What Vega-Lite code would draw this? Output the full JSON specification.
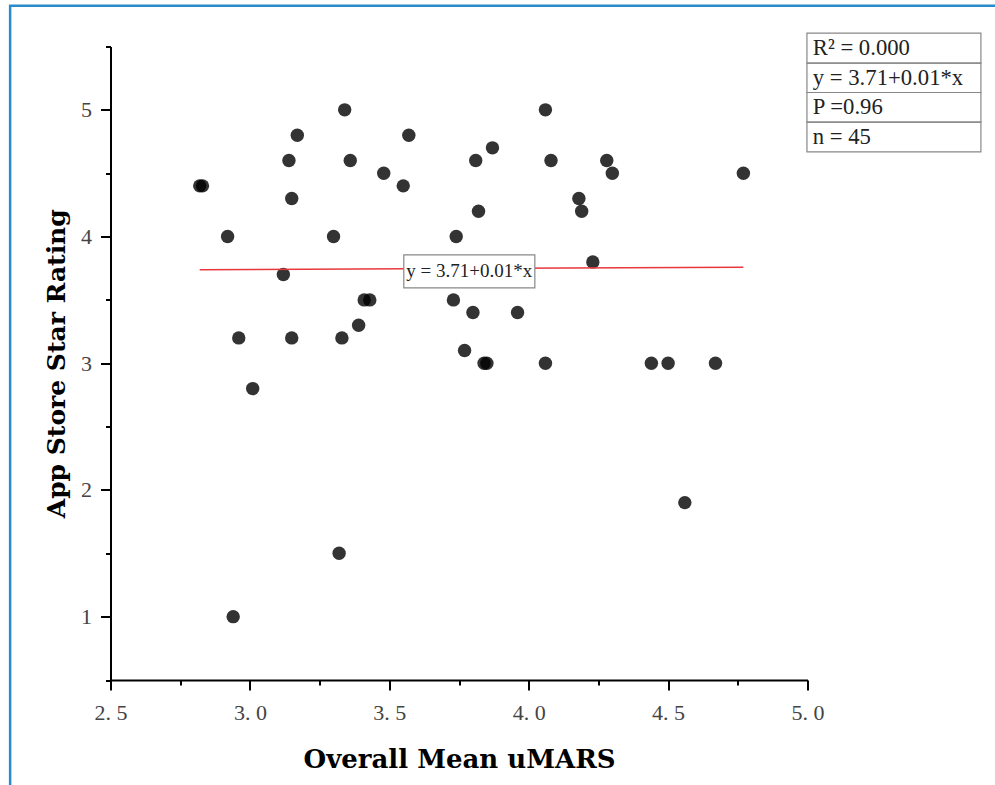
{
  "$schema": "https://vega.github.io/schema/vega-lite/v6.json",
  "width": 697,
  "height": 633.5,
  "autosize": {"type": "none"},
  "padding": {"left": 110.5, "top": 46.5, "right": 187.5, "bottom": 105},
  "background": "white",
  "config": {"view": {"stroke": null}, "font": "Liberation Serif"},
  "datasets": {
    "points": [
      {"mars": 2.82, "rating": 4.4}, {"mars": 2.83, "rating": 4.4},
      {"mars": 2.92, "rating": 4.0}, {"mars": 2.94, "rating": 1.0},
      {"mars": 2.96, "rating": 3.2}, {"mars": 3.01, "rating": 2.8},
      {"mars": 3.12, "rating": 3.7}, {"mars": 3.14, "rating": 4.6},
      {"mars": 3.15, "rating": 4.3}, {"mars": 3.15, "rating": 3.2},
      {"mars": 3.17, "rating": 4.8}, {"mars": 3.30, "rating": 4.0},
      {"mars": 3.32, "rating": 1.5}, {"mars": 3.33, "rating": 3.2},
      {"mars": 3.34, "rating": 5.0}, {"mars": 3.36, "rating": 4.6},
      {"mars": 3.39, "rating": 3.3}, {"mars": 3.41, "rating": 3.5},
      {"mars": 3.43, "rating": 3.5}, {"mars": 3.48, "rating": 4.5},
      {"mars": 3.55, "rating": 4.4}, {"mars": 3.57, "rating": 4.8},
      {"mars": 3.73, "rating": 3.5}, {"mars": 3.74, "rating": 4.0},
      {"mars": 3.77, "rating": 3.1}, {"mars": 3.80, "rating": 3.4},
      {"mars": 3.81, "rating": 4.6}, {"mars": 3.82, "rating": 4.2},
      {"mars": 3.84, "rating": 3.0}, {"mars": 3.85, "rating": 3.0},
      {"mars": 3.87, "rating": 4.7}, {"mars": 3.96, "rating": 3.4},
      {"mars": 4.06, "rating": 3.0}, {"mars": 4.06, "rating": 5.0},
      {"mars": 4.08, "rating": 4.6}, {"mars": 4.18, "rating": 4.3},
      {"mars": 4.19, "rating": 4.2}, {"mars": 4.23, "rating": 3.8},
      {"mars": 4.28, "rating": 4.6}, {"mars": 4.30, "rating": 4.5},
      {"mars": 4.44, "rating": 3.0}, {"mars": 4.50, "rating": 3.0},
      {"mars": 4.56, "rating": 1.9}, {"mars": 4.67, "rating": 3.0},
      {"mars": 4.77, "rating": 4.5}
    ],
    "fit": [
      {"mars": 2.82, "rating": 3.738},
      {"mars": 4.77, "rating": 3.758}
    ]
  },
  "resolve": {"axis": {"x": "independent", "y": "independent"}},
  "layer": [
    {
      "data": {"values": [{}]},
      "mark": {"type": "rect", "fill": null, "stroke": "#2a8bcc", "strokeWidth": 2.5},
      "encoding": {
        "x": {"datum": 2.14, "type": "quantitative", "axis": null},
        "x2": {"datum": 6.0},
        "y": {"datum": 5.821, "type": "quantitative", "axis": null},
        "y2": {"datum": -0.5}
      }
    },
    {
      "data": {"name": "points"},
      "mark": {"type": "circle", "size": 180, "color": "black", "opacity": 0.8},
      "encoding": {
        "x": {
          "field": "mars", "type": "quantitative",
          "scale": {"domain": [2.5, 5], "nice": false, "zero": false},
          "axis": {
            "orient": "bottom", "values": [2.5, 3, 3.5, 4, 4.5, 5], "format": ".1f",
            "labelExpr": "replace(datum.label, '.', '. ')",
            "title": "Overall Mean uMARS", "grid": false,
            "domainColor": "black", "domainWidth": 2,
            "tickColor": "black", "tickWidth": 2, "tickSize": 10,
            "labelFont": "Liberation Serif", "labelFontSize": 22, "labelColor": "#444",
            "labelPadding": 12, "labelFlush": false, "labelOverlap": false,
            "titleFont": "DejaVu Serif", "titleFontWeight": "bold", "titleFontSize": 26,
            "titleColor": "black", "titlePadding": 23
          }
        },
        "y": {
          "field": "rating", "type": "quantitative",
          "scale": {"domain": [0.5, 5.5], "nice": false, "zero": false},
          "axis": {
            "orient": "left", "values": [1, 2, 3, 4, 5], "format": "d",
            "title": "App Store Star Rating", "grid": false,
            "domainColor": "black", "domainWidth": 2,
            "tickColor": "black", "tickWidth": 2, "tickSize": 10,
            "labelFont": "Liberation Serif", "labelFontSize": 22, "labelColor": "#444",
            "labelPadding": 9, "labelFlush": false, "labelOverlap": false,
            "titleFont": "DejaVu Serif", "titleFontWeight": "bold", "titleFontSize": 25,
            "titleColor": "black", "titlePadding": 11
          }
        }
      }
    },
    {
      "data": {"name": "fit"},
      "mark": {"type": "line", "color": "#e8383d", "strokeWidth": 1.5},
      "encoding": {
        "x": {
          "field": "mars", "type": "quantitative",
          "axis": {"orient": "bottom", "values": [2.75, 3.25, 3.75, 4.25, 4.75], "labels": false,
            "domain": false, "grid": false, "tickSize": 5, "tickWidth": 2, "tickColor": "black", "title": null}
        },
        "y": {
          "field": "rating", "type": "quantitative",
          "axis": {"orient": "left", "values": [0.5, 1.5, 2.5, 3.5, 4.5, 5.5], "labels": false,
            "domain": false, "grid": false, "tickSize": 5, "tickWidth": 2, "tickColor": "black", "title": null}
        }
      }
    },
    {
      "data": {"values": [{}]},
      "mark": {"type": "rect", "fill": "white", "stroke": "#888", "strokeWidth": 1.2},
      "encoding": {
        "x": {"datum": 3.552, "type": "quantitative", "axis": null},
        "x2": {"datum": 4.022},
        "y": {"datum": 3.856, "type": "quantitative", "axis": null},
        "y2": {"datum": 3.595}
      }
    },
    {
      "data": {"values": [{"label": "y = 3.71+0.01*x"}]},
      "mark": {"type": "text", "font": "Liberation Serif", "fontSize": 19, "color": "#222", "align": "center", "baseline": "middle"},
      "encoding": {
        "x": {"datum": 3.787, "type": "quantitative", "axis": null},
        "y": {"datum": 3.725, "type": "quantitative", "axis": null},
        "text": {"field": "label"}
      }
    },
    {
      "data": {"values": [{}]},
      "mark": {"type": "rect", "fill": null, "stroke": "#888", "strokeWidth": 1.2},
      "encoding": {
        "x": {"datum": 4.998, "type": "quantitative", "axis": null},
        "x2": {"datum": 5.622},
        "y": {"datum": 5.605, "type": "quantitative", "axis": null},
        "y2": {"datum": 5.369}
      }
    },
    {
      "data": {"values": [{}]},
      "mark": {"type": "rect", "fill": null, "stroke": "#888", "strokeWidth": 1.2},
      "encoding": {
        "x": {"datum": 4.998, "type": "quantitative", "axis": null},
        "x2": {"datum": 5.622},
        "y": {"datum": 5.369, "type": "quantitative", "axis": null},
        "y2": {"datum": 5.137}
      }
    },
    {
      "data": {"values": [{}]},
      "mark": {"type": "rect", "fill": null, "stroke": "#888", "strokeWidth": 1.2},
      "encoding": {
        "x": {"datum": 4.998, "type": "quantitative", "axis": null},
        "x2": {"datum": 5.622},
        "y": {"datum": 5.137, "type": "quantitative", "axis": null},
        "y2": {"datum": 4.903}
      }
    },
    {
      "data": {"values": [{}]},
      "mark": {"type": "rect", "fill": null, "stroke": "#888", "strokeWidth": 1.2},
      "encoding": {
        "x": {"datum": 4.998, "type": "quantitative", "axis": null},
        "x2": {"datum": 5.622},
        "y": {"datum": 4.903, "type": "quantitative", "axis": null},
        "y2": {"datum": 4.668}
      }
    },
    {
      "data": {"values": [{"stat": "R² = 0.000"}]},
      "mark": {"type": "text", "font": "Liberation Serif", "fontSize": 22.7, "color": "#222", "align": "left", "baseline": "middle"},
      "encoding": {
        "x": {"datum": 5.019, "type": "quantitative", "axis": null},
        "y": {"datum": 5.487, "type": "quantitative", "axis": null},
        "text": {"field": "stat"}
      }
    },
    {
      "data": {"values": [{"stat": "y = 3.71+0.01*x"}]},
      "mark": {"type": "text", "font": "Liberation Serif", "fontSize": 22.7, "color": "#222", "align": "left", "baseline": "middle"},
      "encoding": {
        "x": {"datum": 5.019, "type": "quantitative", "axis": null},
        "y": {"datum": 5.253, "type": "quantitative", "axis": null},
        "text": {"field": "stat"}
      }
    },
    {
      "data": {"values": [{"stat": "P =0.96"}]},
      "mark": {"type": "text", "font": "Liberation Serif", "fontSize": 22.7, "color": "#222", "align": "left", "baseline": "middle"},
      "encoding": {
        "x": {"datum": 5.019, "type": "quantitative", "axis": null},
        "y": {"datum": 5.02, "type": "quantitative", "axis": null},
        "text": {"field": "stat"}
      }
    },
    {
      "data": {"values": [{"stat": "n = 45"}]},
      "mark": {"type": "text", "font": "Liberation Serif", "fontSize": 22.7, "color": "#222", "align": "left", "baseline": "middle"},
      "encoding": {
        "x": {"datum": 5.019, "type": "quantitative", "axis": null},
        "y": {"datum": 4.786, "type": "quantitative", "axis": null},
        "text": {"field": "stat"}
      }
    }
  ]
}
